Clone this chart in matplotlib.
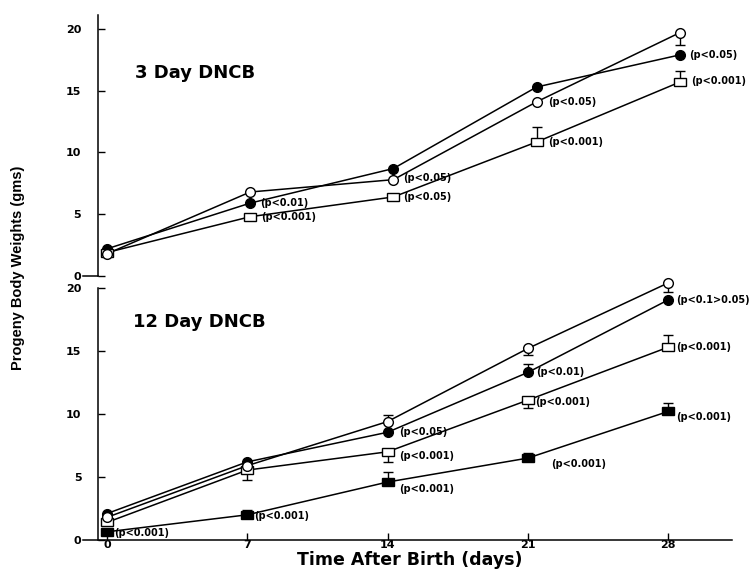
import matplotlib
matplotlib.use("Agg")
import matplotlib.pyplot as plt
from matplotlib.markers import MarkerStyle
from matplotlib.transforms import Affine2D

plt.rcParams['font.family'] = 'DejaVu Sans'
plt.rcParams['font.weight'] = 'bold'

days = [0, 7, 14, 21, 28]
xtick_labels = ['0', '7', '14', '21', '28']
yticks = [0, 5, 10, 15, 20]

# 3 day DNCB (top panel)
top_open = [1.8, 6.8, 7.8, 14.1, 19.7]
top_open_lo = [0, 0, 0, 0, 1.0]
top_filled = [2.2, 5.9, 8.7, 15.3, 17.9]
top_square = [1.9, 4.8, 6.4, 10.85, 15.7]
top_square_hi = [0, 0, 0, 1.25, 0.9]

# 12 day DNCB (bottom panel)
bot_open = [1.8, 5.9, 9.4, 15.2, 20.4]
bot_open_lo = [0, 0, 0, 0.5, 0.7]
bot_open_hi = [0, 0, 0.5, 0, 0]
bot_filled = [2.1, 6.2, 8.55, 13.3, 19.05]
bot_filled_hi = [0, 0, 0, 0.7, 0]
bot_square = [1.4, 5.55, 7.0, 11.1, 15.3]
bot_square_lo = [0, 0.75, 0.8, 0.6, 0]
bot_square_hi = [0, 0, 0, 0, 1.0]
bot_fsquare = [0.65, 2.0, 4.6, 6.5, 10.2]
bot_fsquare_hi = [0, 0.4, 0.8, 0.4, 0.7]

# p-value labels: (series, day index, text, dx, dy) offsets in points
top_labels = [
    ('filled', 1, '(p<0.01)', 7, 0),
    ('square', 1, '(p<0.001)', 8, 0),
    ('open', 2, '(p<0.05)', 7, 1),
    ('square', 2, '(p<0.05)', 7, 0),
    ('open', 3, '(p<0.05)', 8, 0),
    ('square', 3, '(p<0.001)', 8, 0),
    ('filled', 4, '(p<0.05)', 7, 0),
    ('square', 4, '(p<0.001)', 8, 1),
]
bot_labels = [
    ('fsquare', 0, '(p<0.001)', 5, -1),
    ('fsquare', 1, '(p<0.001)', 5, -1),
    ('filled', 2, '(p<0.05)', 8, 0),
    ('square', 2, '(p<0.001)', 8, -3),
    ('fsquare', 2, '(p<0.001)', 8, -5),
    ('filled', 3, '(p<0.01)', 6, 0),
    ('square', 3, '(p<0.001)', 5, -1),
    ('fsquare', 3, '(p<0.001)', 17, -4),
    ('filled', 4, '(p<0.1>0.05)', 6, 0),
    ('square', 4, '(p<0.001)', 6, 0),
    ('fsquare', 4, '(p<0.001)', 6, -4),
]

rect = MarkerStyle('s', transform=Affine2D().scale(1.3, 0.95))
styles = {
    'open': dict(marker='o', mfc='white', ms=7),
    'filled': dict(marker='o', mfc='black', ms=7),
    'square': dict(marker=rect, mfc='white', ms=6.5),
    'fsquare': dict(marker=rect, mfc='black', ms=6.5),
}


def draw_series(ax, y, kind, lo=None, hi=None):
    ax.plot(days, y, '-', color='black', lw=1.1, zorder=2, clip_on=False)
    if lo is not None or hi is not None:
        lo = lo if lo is not None else [0] * len(y)
        hi = hi if hi is not None else [0] * len(y)
        for i in range(len(y)):
            if lo[i] > 0 or hi[i] > 0:
                ax.errorbar([days[i]], [y[i]], yerr=[[lo[i]], [hi[i]]], fmt='none',
                            ecolor='black', elinewidth=1.0, capsize=3.5, capthick=1.0,
                            zorder=3, clip_on=False)
    ax.plot(days, y, linestyle='none', mec='black', mew=1.0, zorder=4,
            clip_on=False, **styles[kind])


def style_axis(ax):
    for s in ['top', 'right']:
        ax.spines[s].set_visible(False)
    ax.set_yticks(yticks)
    ax.tick_params(axis='y', direction='in', length=5, width=1.0, pad=12, labelsize=8)
    ax.tick_params(axis='x', direction='in', length=5, width=1.0, pad=0, labelsize=8)
    ax.patch.set_alpha(0)


fig = plt.figure(figsize=(7.51, 5.70), dpi=100)

# top panel
ax1 = fig.add_axes([83 / 751, 1 - 276 / 570, 649 / 751, 261 / 570])
ax1.set_xlim(-1.17, 30.55)
ax1.set_ylim(0, 21.13)
style_axis(ax1)
ax1.spines['left'].set_position(('data', -0.44))
ax1.spines['left'].set_linewidth(1.1)
ax1.spines['bottom'].set_bounds(-1.17, -0.44)
ax1.spines['bottom'].set_linewidth(1.1)
ax1.set_xticks([])
draw_series(ax1, top_filled, 'filled')
draw_series(ax1, top_square, 'square', hi=top_square_hi)
draw_series(ax1, top_open, 'open', lo=top_open_lo)
ax1.text(1.37, 16.4, '3 Day DNCB', fontsize=13, va='center', ha='left')

top_series = {'open': top_open, 'filled': top_filled, 'square': top_square}
for kind, i, txt, dx, dy in top_labels:
    ax1.annotate(txt, (days[i], top_series[kind][i]), xytext=(dx, dy),
                 textcoords='offset points', fontsize=7, va='center', ha='left')

# bottom panel
ax2 = fig.add_axes([83 / 751, 30 / 570, 649 / 751, 252 / 570])
ax2.set_xlim(-1.2, 31.19)
ax2.set_ylim(0, 20)
style_axis(ax2)
ax2.spines['left'].set_position(('data', -0.45))
ax2.spines['left'].set_linewidth(1.1)
ax2.spines['bottom'].set_linewidth(1.1)
ax2.set_xticks(days)
ax2.set_xticklabels(xtick_labels)
draw_series(ax2, bot_fsquare, 'fsquare', hi=bot_fsquare_hi)
draw_series(ax2, bot_square, 'square', lo=bot_square_lo, hi=bot_square_hi)
draw_series(ax2, bot_filled, 'filled', hi=bot_filled_hi)
draw_series(ax2, bot_open, 'open', lo=bot_open_lo, hi=bot_open_hi)
ax2.text(1.3, 17.3, '12 Day DNCB', fontsize=13, va='center', ha='left')

bot_series = {'open': bot_open, 'filled': bot_filled, 'square': bot_square,
              'fsquare': bot_fsquare}
for kind, i, txt, dx, dy in bot_labels:
    ax2.annotate(txt, (days[i], bot_series[kind][i]), xytext=(dx, dy),
                 textcoords='offset points', fontsize=7, va='center', ha='left',
                 annotation_clip=False)

fig.text(410 / 751, 1 - 560 / 570, 'Time After Birth (days)', fontsize=12.5,
         ha='center', va='center')
fig.text(18 / 751, 1 - 268 / 570, 'Progeny Body Weights (gms)', fontsize=10.5,
         rotation=90, ha='center', va='center', family='Liberation Sans')

fig.savefig('out.png', dpi=100)
